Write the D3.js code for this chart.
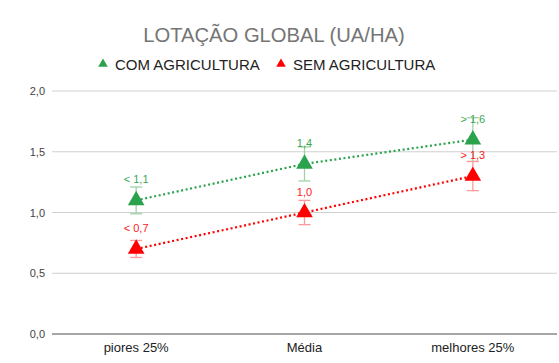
<!DOCTYPE html>
<html lang="pt">
<head>
  <meta charset="UTF-8">
  <title>Lotação global</title>
  <script src="https://d3js.org/d3.v7.min.js"></script>
  <style>
    body { margin: 0; background: #fff; font-family: "Liberation Sans", Arial, sans-serif; }
    svg { display: block; }
  </style>
</head>
<body>
  <script>
    const categories = ["piores 25%", "Média", "melhores 25%"];
    const comAgricultura = [1.1, 1.4, 1.6];
    const semAgricultura = [0.7, 1.0, 1.3];
    const comErro = [0.11, 0.14, 0.18];
    const semErro = [0.07, 0.1, 0.12];
    const comLabels = ["< 1,1", "1,4", "> 1,6"];
    const semLabels = ["< 0,7", "1,0", "> 1,3"];
    const yTicks = [0, 0.5, 1, 1.5, 2];

    const width = 559, height = 363;
    const margin = { top: 91, right: 2, bottom: 29, left: 52 };

    const svg = d3.select("body").append("svg")
      .attr("width", width)
      .attr("height", height);

    const x = d3.scalePoint().domain(categories)
      .range([margin.left, width - margin.right]).padding(0.5);
    const y = d3.scaleLinear().domain([0, 2])
      .range([height - margin.bottom, margin.top]);

    // title
    svg.append("text")
      .attr("x", 274).attr("y", 42)
      .attr("text-anchor", "middle")
      .attr("font-size", 20.2)
      .attr("fill", "#757575")
      .text("LOTAÇÃO GLOBAL (UA/HA)");

    // legend
    const series = [
      { name: "COM AGRICULTURA", color: "#2ba24c", label: "#3aa856", err: "#9ed3a8", vals: comAgricultura, errs: comErro, labels: comLabels },
      { name: "SEM AGRICULTURA", color: "#ff0000", label: "#ff2020", err: "#ff9a9a", vals: semAgricultura, errs: semErro, labels: semLabels }
    ];
    const legendX = [103, 281];
    const tri = d3.symbol().type(d3.symbolTriangle);
    series.forEach((s, i) => {
      const g = svg.append("g").attr("transform", `translate(${legendX[i]},64)`);
      g.append("path").attr("d", tri.size(40)()).attr("fill", s.color);
      g.append("text").attr("x", 12).attr("y", 5.5)
        .attr("font-size", 15).attr("fill", "#222").text(s.name);
    });

    // grid
    svg.append("g").selectAll("line")
      .data(yTicks.filter(d => d > 0))
      .join("line")
      .attr("x1", margin.left).attr("x2", width - margin.right)
      .attr("y1", d => y(d)).attr("y2", d => y(d))
      .attr("stroke", "#d0d0d0").attr("stroke-width", 1);

    svg.append("line")
      .attr("x1", margin.left).attr("x2", width - margin.right)
      .attr("y1", y(0)).attr("y2", y(0))
      .attr("stroke", "#888").attr("stroke-width", 1.5);

    // y labels
    svg.append("g").selectAll("text")
      .data(yTicks)
      .join("text")
      .attr("x", 45).attr("y", d => y(d) + 4)
      .attr("text-anchor", "end")
      .attr("font-size", 11).attr("fill", "#444")
      .text(d => d3.format(".1f")(d).replace(".", ","));

    // x labels
    svg.append("g").selectAll("text")
      .data(categories)
      .join("text")
      .attr("x", d => x(d)).attr("y", 352)
      .attr("text-anchor", "middle")
      .attr("font-size", 13).attr("fill", "#222")
      .text(d => d);

    const line = d3.line().x((d, i) => x(categories[i])).y(d => y(d));

    series.forEach(s => {
      const g = svg.append("g");
      g.append("path")
        .attr("d", line(s.vals))
        .attr("fill", "none")
        .attr("stroke", s.color)
        .attr("stroke-width", 2.2)
        .attr("stroke-dasharray", "2,2.6");

      // error bars
      s.vals.forEach((v, i) => {
        const cx = x(categories[i]);
        const y0 = y(v - s.errs[i]), y1 = y(v + s.errs[i]);
        g.append("line").attr("x1", cx).attr("x2", cx).attr("y1", y0).attr("y2", y1)
          .attr("stroke", s.err).attr("stroke-width", 1.3);
        [y0, y1].forEach(yy => g.append("line")
          .attr("x1", cx - 6).attr("x2", cx + 6).attr("y1", yy).attr("y2", yy)
          .attr("stroke", s.err).attr("stroke-width", 1.3));
      });

      // markers
      g.selectAll(".m").data(s.vals).join("path")
        .attr("d", tri.size(120)())
        .attr("transform", (d, i) => `translate(${x(categories[i])},${y(d)})`)
        .attr("fill", s.color);

      // data labels
      g.selectAll(".l").data(s.vals).join("text")
        .attr("x", (d, i) => x(categories[i]))
        .attr("y", d => y(d) - 17)
        .attr("text-anchor", "middle")
        .attr("font-size", 11)
        .attr("fill", s.label)
        .text((d, i) => s.labels[i]);
    });
  </script>
</body>
</html>
